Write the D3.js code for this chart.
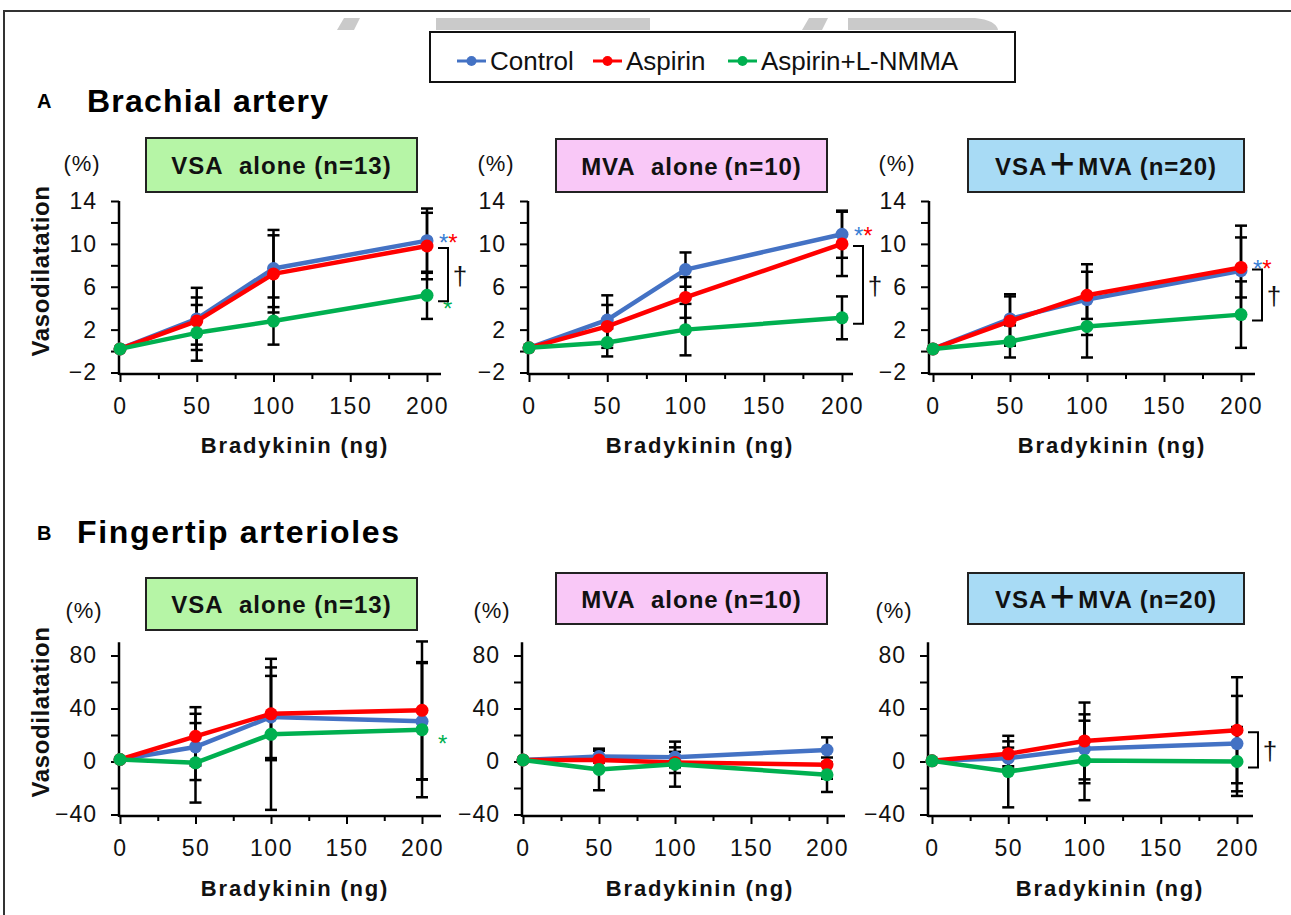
<!DOCTYPE html>
<html>
<head>
<meta charset="utf-8">
<script src="https://cdn.jsdelivr.net/npm/d3@7"></script>
<style>
  body { margin: 0; background: #fff; }
  svg { display: block; font-family: "Liberation Sans", Arial, sans-serif; }
</style>
</head>
<body>
<svg id="chart" width="1291" height="915"></svg>
<script>
// ---- data ----
const doses = [0, 50, 100, 200];
const seriesNames = ["Control", "Aspirin", "Aspirin+L-NMMA"];
const seriesColors = ["#4472c4", "#ff0000", "#00b050"];
const xTicks = [0, 25, 50, 75, 100, 125, 150, 175, 200];
const xTickLabels = [0, 50, 100, 150, 200];
const brachialTicks = [-2, 0, 2, 4, 6, 8, 10, 12, 14];
const brachialTickLabels = [-2, 2, 6, 10, 14];
const fingerTicks = [-40, -20, 0, 20, 40, 60, 80];
const fingerTickLabels = [-40, 0, 40, 80];

// rows: Control, Aspirin, Aspirin+L-NMMA
const brachialVsaMean = [[0.2, 3.0, 7.7, 10.3], [0.2, 2.8, 7.2, 9.8], [0.2, 1.7, 2.8, 5.2]];
const brachialVsaSd = [[0, 2.9, 3.6, 3.0], [0, 2.2, 3.6, 3.1], [0, 2.6, 2.2, 2.2]];
const brachialMvaMean = [[0.3, 2.9, 7.6, 10.9], [0.3, 2.3, 5.0, 10.0], [0.3, 0.8, 2.0, 3.1]];
const brachialMvaSd = [[0, 2.3, 1.6, 2.2], [0, 2.0, 1.9, 3.0], [0, 1.3, 2.4, 2.0]];
const brachialBothMean = [[0.2, 3.0, 4.8, 7.5], [0.2, 2.8, 5.2, 7.8], [0.2, 0.9, 2.3, 3.4]];
const brachialBothSd = [[0, 2.3, 3.3, 4.2], [0, 2.3, 2.2, 2.8], [0, 1.5, 2.9, 3.1]];
const fingerVsaMean = [[1.5, 11, 33.6, 30.3], [1.5, 19, 36, 38.6], [1.5, -1, 20.5, 24]];
const fingerVsaSd = [[0, 25, 31, 44], [0, 22, 35, 52], [0, 30, 57, 51]];
const fingerMvaMean = [[1.2, 3.7, 3.2, 8.7], [1.2, 1.2, -0.7, -2.5], [1.2, -6, -2, -10]];
const fingerMvaSd = [[0, 4.5, 7.5, 9.5], [0, 7, 8, 10.5], [0, 15.7, 17, 13]];
const fingerBothMean = [[0.5, 2.5, 9.6, 13.5], [0.5, 5.8, 15.5, 23.6], [0.5, -7.6, 0.8, 0]];
const fingerBothSd = [[0, 8, 26, 36], [0, 9.4, 29, 40], [0, 27, 30, 26]];

// ---- layout ----
const rows = {
  A: { domain: [-2, 14], range: [372.5, 201], top: 14, ticks: brachialTicks, labels: brachialTickLabels, xAxisY: 374, xTitleY: 453, pctY: 163, yTitleY: 271 },
  B: { domain: [-40, 80], range: [814.5, 655.5], top: 90, ticks: fingerTicks, labels: fingerTickLabels, xAxisY: 816, xTitleY: 896, pctY: 610, yTitleY: 712 }
};

const panels = [
  { row: "A", title: ["VSA\u00a0 alone (n=13)"], fill: "#b6f5a6", box: [146, 138, 271, 54], mean: brachialVsaMean, sd: brachialVsaSd,
    axisX: 119, x0: 120, x200: 427, xEnd: 441, pctX: 82, xTitleX: 295, stars: true, bracket: true, greenStar: true, yTitle: true },
  { row: "A", title: ["MVA\u00a0 alone\u2009(n=10)"], fill: "#f9c8f7", box: [556, 139, 271, 53], mean: brachialMvaMean, sd: brachialMvaSd,
    axisX: 528, x0: 529, x200: 842, xEnd: 853, pctX: 496, xTitleX: 700, stars: true, bracket: true },
  { row: "A", title: ["VSA", "\uff0b", "MVA (n=20)"], fill: "#a8dbf5", box: [968, 139, 276, 53], mean: brachialBothMean, sd: brachialBothSd,
    axisX: 929, x0: 933, x200: 1241, xEnd: 1255, pctX: 897, xTitleX: 1112, stars: true, bracket: true },
  { row: "B", title: ["VSA\u00a0 alone (n=13)"], fill: "#b6f5a6", box: [146, 578, 271, 52], mean: fingerVsaMean, sd: fingerVsaSd,
    axisX: 119, x0: 120, x200: 422, xEnd: 441, pctX: 84, xTitleX: 295, greenStar: true, yTitle: true },
  { row: "B", title: ["MVA\u00a0 alone\u2009(n=10)"], fill: "#f9c8f7", box: [556, 573, 271, 51], mean: fingerMvaMean, sd: fingerMvaSd,
    axisX: 522, x0: 523, x200: 827, xEnd: 845, pctX: 492, xTitleX: 700 },
  { row: "B", title: ["VSA", "\uff0b", "MVA (n=20)"], fill: "#a8dbf5", box: [968, 573, 276, 51], mean: fingerBothMean, sd: fingerBothSd,
    axisX: 928, x0: 932, x200: 1237, xEnd: 1253, pctX: 894, xTitleX: 1110, bracket: true }
];

const FONT = "'Liberation Sans', Arial, sans-serif";
const svg = d3.select("#chart");

// faded watermark letters behind the top edge
const wm = svg.append("g").attr("fill", "#cacaca");
wm.append("path").attr("d", "M344,18H360L354,30H337Z");
wm.append("rect").attr("x", 436).attr("y", 18).attr("width", 214).attr("height", 12);
wm.append("path").attr("d", "M809,18H828L822,30H802Z");
wm.append("path").attr("d", "M848,18H975Q996,20 998,30H848Z");

// outer frame
svg.append("rect").attr("x", 4).attr("y", 11).attr("width", 1400).attr("height", 1000)
  .attr("fill", "none").attr("stroke", "#333").attr("stroke-width", 2);

// legend
svg.append("rect").attr("x", 430).attr("y", 32).attr("width", 585).attr("height", 50)
  .attr("fill", "#fff").attr("stroke", "#111").attr("stroke-width", 2);
const legendX = [457, 593, 728];
seriesNames.forEach((name, i) => {
  const lg = svg.append("g").attr("transform", `translate(${legendX[i]},61)`);
  lg.append("line").attr("x1", 0).attr("x2", 29).attr("stroke", seriesColors[i]).attr("stroke-width", 3);
  lg.append("circle").attr("cx", 14.5).attr("r", 5).attr("fill", seriesColors[i]);
  lg.append("text").attr("x", 33).attr("y", 9).attr("font-size", 26).attr("fill", "#111").text(name);
});

// section headings
svg.append("text").attr("x", 37).attr("y", 108).attr("font-size", 20).attr("font-weight", "bold").text("A");
svg.append("text").attr("x", 87).attr("y", 112).attr("font-size", 32).attr("font-weight", "bold")
  .style("letter-spacing", "1.2px").text("Brachial artery");
svg.append("text").attr("x", 37).attr("y", 540).attr("font-size", 20).attr("font-weight", "bold").text("B");
svg.append("text").attr("x", 77).attr("y", 543).attr("font-size", 32).attr("font-weight", "bold")
  .style("letter-spacing", "1.7px").text("Fingertip arterioles");

panels.forEach(p => {
  const r = rows[p.row];
  const x = d3.scaleLinear().domain([0, 200]).range([p.x0, p.x200]);
  const y = d3.scaleLinear().domain(r.domain).range(r.range);
  const g = svg.append("g");

  // title box
  g.append("rect").attr("x", p.box[0]).attr("y", p.box[1]).attr("width", p.box[2]).attr("height", p.box[3])
    .attr("fill", p.fill).attr("stroke", "#222").attr("stroke-width", 2);
  const tt = g.append("text").attr("x", p.box[0] + p.box[2] / 2).attr("y", p.box[1] + p.box[3] / 2 + 9)
    .attr("text-anchor", "middle").attr("font-size", 24).attr("font-weight", "bold")
    .style("letter-spacing", "1px").attr("fill", "#111");
  p.title.forEach(part => {
    const ts = tt.append("tspan").text(part);
    if (part === "\uff0b") ts.attr("font-family", "'Noto Sans CJK JP', sans-serif").attr("font-size", 30).attr("font-weight", "900");
  });

  // (%)
  g.append("text").attr("x", p.pctX).attr("y", r.pctY + 8).attr("text-anchor", "middle")
    .attr("font-size", 22).style("letter-spacing", "1px").attr("fill", "#111").text("(%)");

  // y axis
  const ya = g.append("g").attr("transform", `translate(${p.axisX},0)`)
    .call(d3.axisLeft(y).tickValues(r.ticks).tickSize(8).tickPadding(14)
      .tickFormat(d => r.labels.includes(d) ? d3.format("")(d) : ""));
  ya.select(".domain").remove();
  ya.attr("font-family", FONT);
  ya.selectAll("line").attr("stroke", "#000").attr("stroke-width", 2);
  ya.selectAll("text").attr("font-size", 23).attr("fill", "#111").style("letter-spacing", "1px");
  g.append("line").attr("x1", p.axisX).attr("x2", p.axisX).attr("y1", y(r.top)).attr("y2", r.xAxisY + 1)
    .attr("stroke", "#000").attr("stroke-width", 2.5);

  // x axis
  const xa = g.append("g").attr("transform", `translate(0,${r.xAxisY})`)
    .call(d3.axisBottom(x).tickValues(xTicks).tickSize(8).tickPadding(16)
      .tickFormat(d => xTickLabels.includes(d) ? d : ""));
  xa.select(".domain").remove();
  xa.attr("font-family", FONT);
  xa.selectAll("line").attr("stroke", "#000").attr("stroke-width", 2);
  xa.selectAll(".tick").filter(d => !xTickLabels.includes(d)).select("line").attr("y2", 5);
  xa.selectAll("text").attr("font-size", 23).attr("fill", "#111").style("letter-spacing", "1.5px");
  g.append("line").attr("x1", p.axisX).attr("x2", p.xEnd).attr("y1", r.xAxisY).attr("y2", r.xAxisY)
    .attr("stroke", "#000").attr("stroke-width", 2.5);

  // axis titles
  g.append("text").attr("x", p.xTitleX).attr("y", r.xTitleY).attr("text-anchor", "middle")
    .attr("font-size", 22).attr("font-weight", "bold").style("letter-spacing", "1.8px").attr("fill", "#111")
    .text("Bradykinin (ng)");
  if (p.yTitle) {
    g.append("text").attr("transform", `translate(49,${r.yTitleY}) rotate(-90)`).attr("text-anchor", "middle")
      .attr("font-size", 24).attr("font-weight", "bold").style("letter-spacing", "0.6px").attr("fill", "#111")
      .text("Vasodilatation");
  }

  // error bars
  const eb = g.append("g").attr("stroke", "#000").attr("stroke-width", 2.5);
  p.mean.forEach((ser, i) => {
    ser.forEach((m, j) => {
      const s = p.sd[i][j];
      if (!s) return;
      const cx = x(doses[j]);
      eb.append("line").attr("x1", cx).attr("x2", cx).attr("y1", y(m - s)).attr("y2", y(m + s));
      [m - s, m + s].forEach(v => eb.append("line").attr("x1", cx - 6).attr("x2", cx + 6).attr("y1", y(v)).attr("y2", y(v)));
    });
  });

  // lines and dots
  const line = d3.line().x((d, j) => x(doses[j])).y(d => y(d));
  p.mean.forEach((ser, i) => {
    g.append("path").datum(ser).attr("d", line).attr("fill", "none")
      .attr("stroke", seriesColors[i]).attr("stroke-width", 4.5).attr("stroke-linejoin", "round");
    g.selectAll(null).data(ser).join("circle")
      .attr("cx", (d, j) => x(doses[j])).attr("cy", d => y(d)).attr("r", 6.5).attr("fill", seriesColors[i]);
  });

  // significance marks
  const last = doses.length - 1;
  if (p.stars) {
    const top = Math.max(p.mean[0][last], p.mean[1][last]);
    const t = g.append("text").attr("x", x(200) + 12).attr("y", y(top) + 10).attr("font-size", 24);
    t.append("tspan").attr("fill", "#3a7fd5").text("*");
    t.append("tspan").attr("fill", "#ff0000").text("*");
  }
  if (p.greenStar) {
    g.append("text").attr("x", x(200) + 16).attr("y", y(p.mean[2][last]) + 22).attr("font-size", 24)
      .attr("fill", "#00b050").text("*");
  }
  if (p.bracket) {
    const y1 = y(p.mean[1][last]) + 2, y2 = y(p.mean[2][last]) + 6;
    const bx = x(200);
    g.append("path").attr("d", `M${bx + 11},${y1}H${bx + 21}V${y2}H${bx + 11}`)
      .attr("fill", "none").attr("stroke", "#000").attr("stroke-width", 2);
    g.append("text").attr("x", bx + 33).attr("y", (y1 + y2) / 2 + 10).attr("text-anchor", "middle")
      .attr("font-size", 26).attr("fill", "#111").text("\u2020");
  }
});
</script>
</body>
</html>
